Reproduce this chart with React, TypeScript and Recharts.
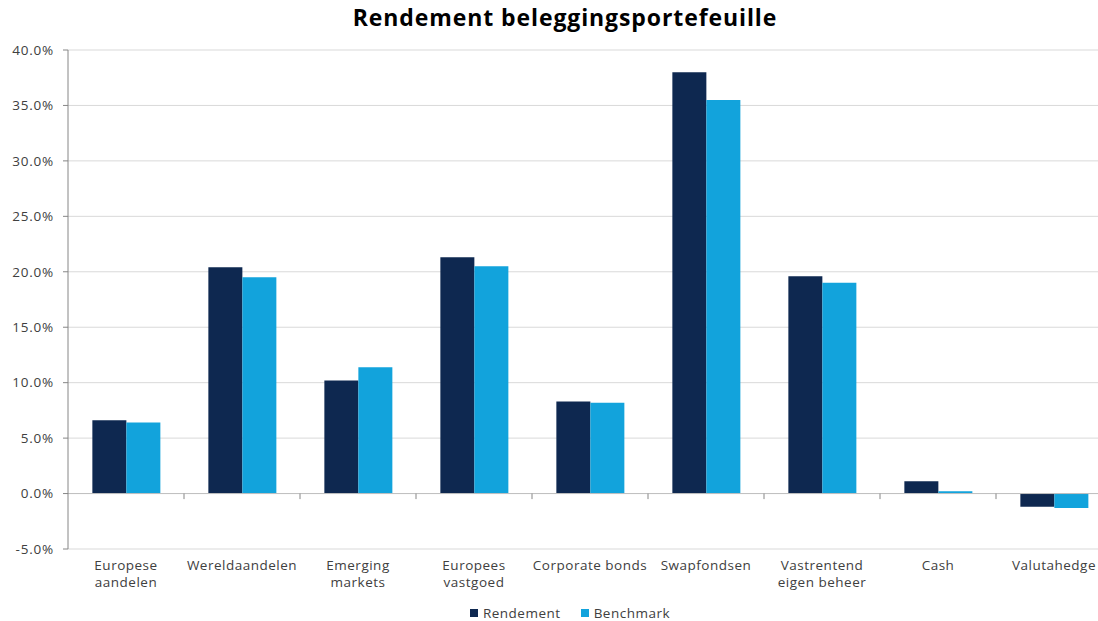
import React from "react";
import { BarChart, Bar, XAxis, YAxis, CartesianGrid, Legend, ReferenceLine } from "recharts";

const categories = [
  "Europese\naandelen",
  "Wereldaandelen",
  "Emerging\nmarkets",
  "Europees\nvastgoed",
  "Corporate bonds",
  "Swapfondsen",
  "Vastrentend\neigen beheer",
  "Cash",
  "Valutahedge",
];
const rendement = [6.6, 20.4, 10.2, 21.3, 8.3, 38.0, 19.6, 1.1, -1.2];
const benchmark = [6.4, 19.5, 11.4, 20.5, 8.2, 35.5, 19.0, 0.2, -1.3];
const yTicks = [-5, 0, 5, 10, 15, 20, 25, 30, 35, 40];
const seriesNames = ["Rendement", "Benchmark"];
const seriesColors = ["#0e2850", "#12a3dc"];

const data = categories.map((c, i) => ({
  name: c,
  Rendement: rendement[i],
  Benchmark: benchmark[i],
}));

const FONT = "'Open Sans', sans-serif";
const TXT = "#404040";

const CatTick = (props: any) => {
  const { x, y, payload } = props;
  const lines = String(payload.value).split("\n");
  return (
    <g transform={`translate(${x},${y})`}>
      {lines.map((l: string, i: number) => (
        <text
          key={i}
          x={0}
          y={0}
          dy={13 + i * 17}
          textAnchor="middle"
          fill={TXT}
          fontSize={13.5}
          letterSpacing={0.5}
          fontFamily={FONT}
        >
          {l}
        </text>
      ))}
    </g>
  );
};

const LegendContent = () => (
  <div style={{ display: "flex", justifyContent: "center", alignItems: "center", fontFamily: FONT, fontSize: 13.5, letterSpacing: 0.5, color: TXT, height: 22, marginLeft: 28 }}>
    {seriesNames.map((n, i) => (
      <div key={n} style={{ display: "flex", alignItems: "center", marginLeft: i ? 20 : 0 }}>
        <span style={{ display: "inline-block", width: 8, height: 8, background: seriesColors[i], marginRight: 5 }} />
        <span>{n}</span>
      </div>
    ))}
  </div>
);

export default function App() {
  return (
    <div style={{ position: "absolute", left: 0, top: 0, width: 1098, height: 621, overflow: "hidden", background: "#fff" }}>
      <div
        style={{
          position: "absolute",
          left: 0,
          top: 1,
          width: 1130,
          textAlign: "center",
          fontFamily: FONT,
          fontWeight: 700,
          fontSize: 23,
          letterSpacing: 0.9,
          color: "#000",
          zIndex: 2,
        }}
      >
        Rendement beleggingsportefeuille
      </div>
      <BarChart
        width={1130}
        height={621}
        data={data}
        margin={{ top: 50, right: 18, left: 0, bottom: 0 }}
        barCategoryGap="21%"
        barGap={0}
      >
        <CartesianGrid vertical={false} stroke="#d9d9d9" />
        <XAxis
          dataKey="name"
          interval={0}
          tick={<CatTick />}
          axisLine={false}
          tickLine={false}
          height={50}
          tickMargin={2}
        />
        <YAxis
          domain={[-5, 40]}
          ticks={yTicks}
          width={68}
          tickFormatter={(v: number) => `${v.toFixed(1)}%`}
          tick={{ fill: TXT, fontSize: 13.5, fontFamily: FONT, letterSpacing: 0.8 }}
          axisLine={{ stroke: "#868686" }}
          tickLine={{ stroke: "#868686" }}
          tickSize={5}
          tickMargin={9}
          interval={0}
        />
        <ReferenceLine y={0} stroke="#bfbfbf" />
        {categories.slice(1).map((c) => (
          <ReferenceLine
            key={c}
            position="start"
            segment={[
              { x: c, y: 0 },
              { x: c, y: -0.5 },
            ]}
            stroke="#868686"
          />
        ))}
        <Legend
          verticalAlign="bottom"
          align="center"
          height={22}
          wrapperStyle={{ bottom: -3 }}
          content={<LegendContent />}
        />
        <Bar dataKey="Rendement" fill={seriesColors[0]} isAnimationActive={false} />
        <Bar dataKey="Benchmark" fill={seriesColors[1]} isAnimationActive={false} />
      </BarChart>
    </div>
  );
}
